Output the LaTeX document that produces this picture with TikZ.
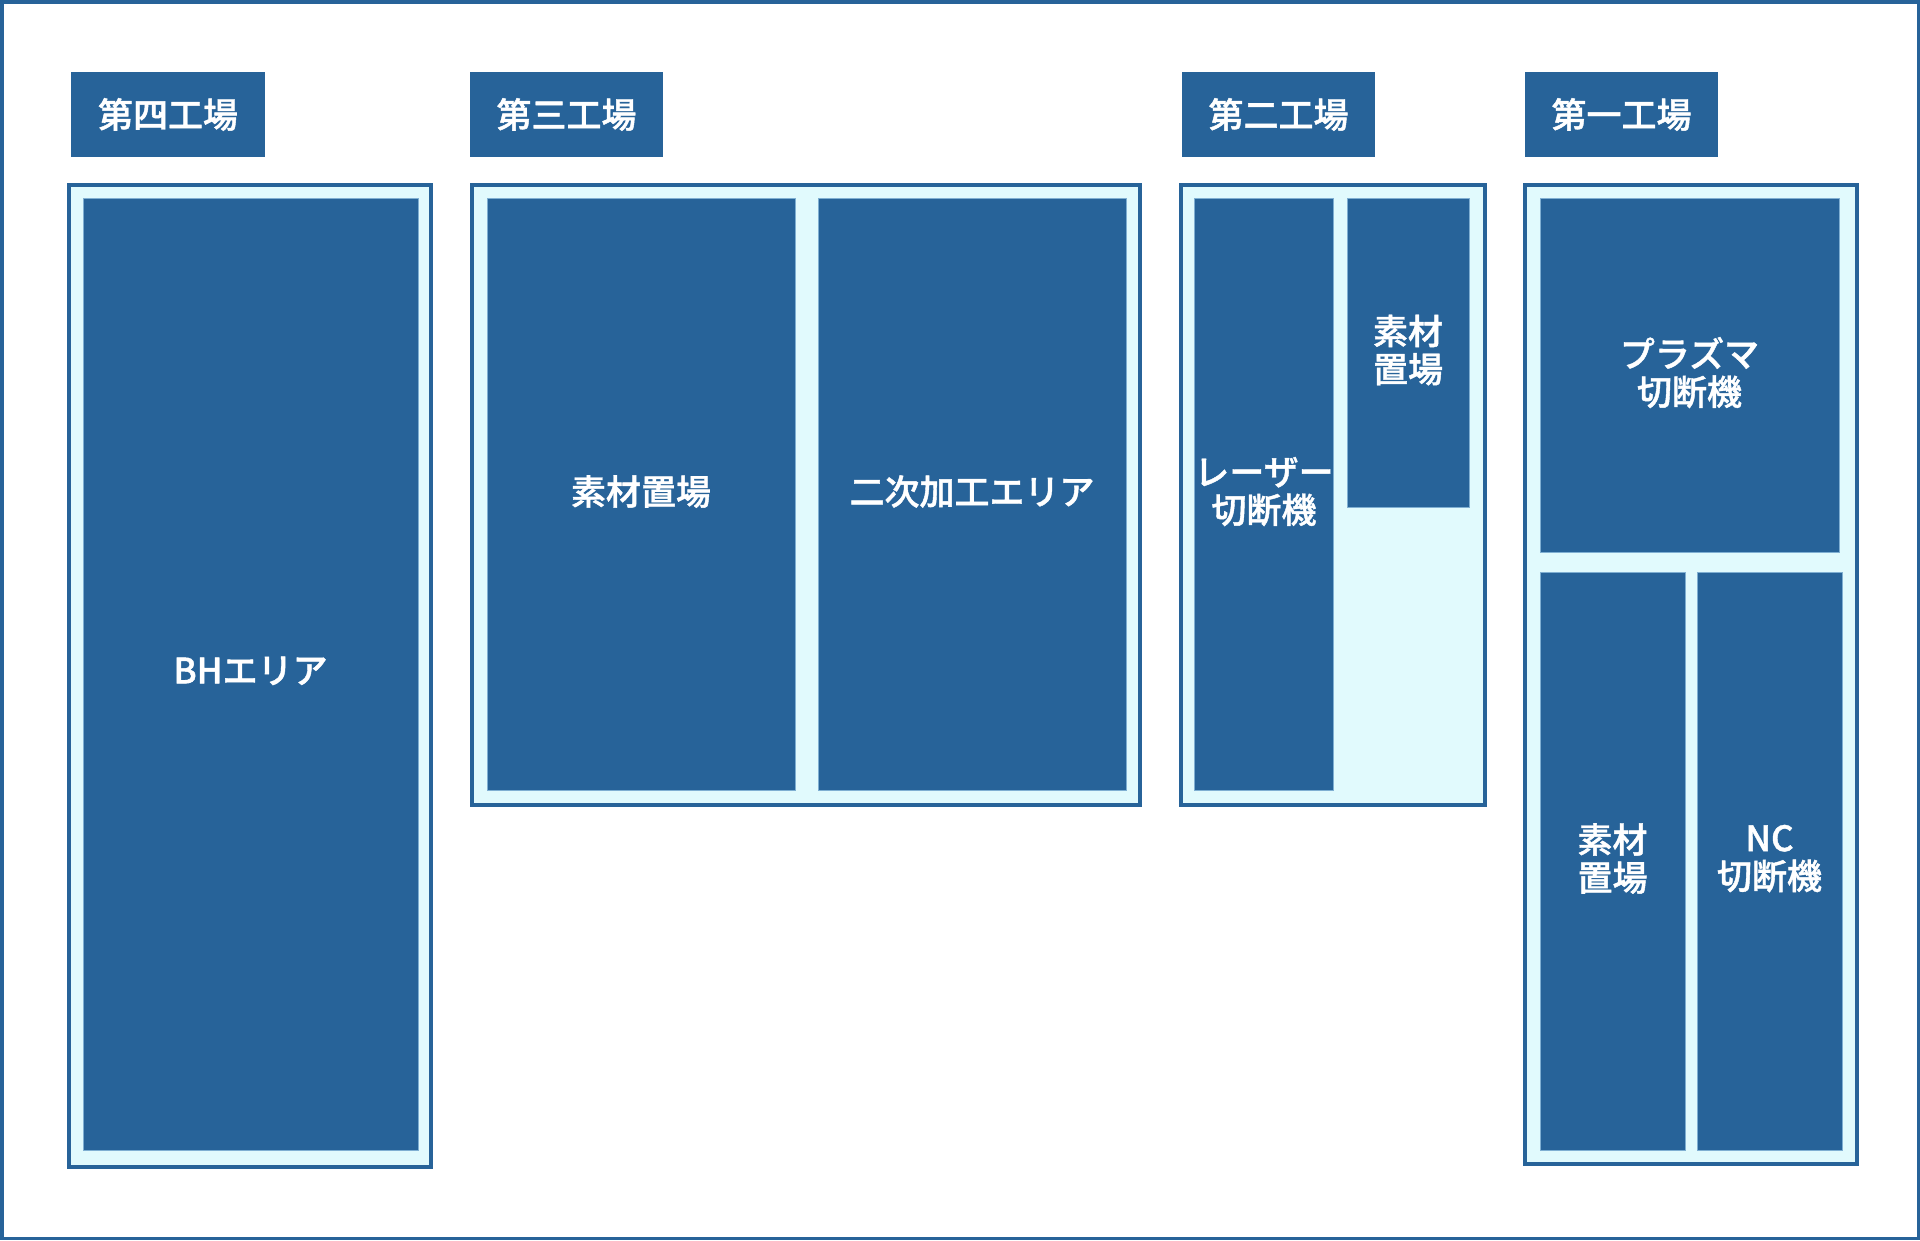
\documentclass[tikz,border=0pt]{standalone}
\usepackage{fontspec}
\setmainfont{Noto Sans CJK JP}[BoldFont={Noto Sans CJK JP Medium}, BoldFeatures={FakeBold=1.2}]
\definecolor{dkblue}{HTML}{276399}
\definecolor{ltfill}{HTML}{E1FAFD}
\definecolor{ltline}{HTML}{7FAFD2}
\tikzset{
  frame/.style={draw=dkblue, line width=3.5pt},
  titlebox/.style={rectangle, fill=dkblue, draw=none, inner sep=0pt, outer sep=0pt,
    text=white, font=\fontsize{35}{38}\selectfont\bfseries},
  factory/.style={rectangle, fill=ltfill, draw=dkblue, line width=4pt, inner sep=0pt, outer sep=0pt},
  area/.style={rectangle, fill=dkblue, draw=ltline, line width=1pt, inner sep=0pt, outer sep=0pt,
    text=white, align=center, text depth=8pt, font=\fontsize{35}{38}\selectfont\bfseries},
}
\begin{document}
\begin{tikzpicture}[x=1pt,y=-1pt]
\useasboundingbox (0,0) rectangle (1920,1240);
\fill[white] (0,0) rectangle (1920,1240);
\draw[frame] (1.75,1.75) rectangle (1918.25,1238.25);

% title boxes
\node[titlebox, minimum width=194pt, minimum height=85pt] (t4) at (168,114.5) {第四工場};
\node[titlebox, minimum width=193pt, minimum height=85pt] (t3) at (566.5,114.5) {第三工場};
\node[titlebox, minimum width=193pt, minimum height=85pt] (t2) at (1278.5,114.5) {第二工場};
\node[titlebox, minimum width=193pt, minimum height=85pt] (t1) at (1621.5,114.5) {第一工場};

% factory outlines
\node[factory, minimum width=362pt, minimum height=982pt] (f4) at (250,676) {};
\node[factory, minimum width=668pt, minimum height=620pt] (f3) at (806,495) {};
\node[factory, minimum width=304pt, minimum height=620pt] (f2) at (1333,495) {};
\node[factory, minimum width=332pt, minimum height=979pt] (f1) at (1691,674.5) {};

% factory 4
\node[area, minimum width=335pt, minimum height=952pt] (bh) at (250.5,674) {BHエリア};

% factory 3
\node[area, minimum width=308pt, minimum height=592pt] (s3) at (641,494) {素材置場};
\node[area, minimum width=308pt, minimum height=592pt] (n3) at (972,494) {二次加工エリア};

% factory 2
\node[area, minimum width=138pt, minimum height=592pt] (l2) at (1264,494) {レーザー\\切断機};
\node[area, minimum width=122pt, minimum height=309pt] (s2) at (1408,352.5) {素材\\置場};

% factory 1
\node[area, minimum width=299pt, minimum height=354pt] (p1) at (1689.5,375) {プラズマ\\切断機};
\node[area, minimum width=145pt, minimum height=578pt] (s1) at (1612.5,861) {素材\\置場};
\node[area, minimum width=145pt, minimum height=578pt] (nc1) at (1769.5,861) {NC\\切断機};
\end{tikzpicture}
\end{document}
